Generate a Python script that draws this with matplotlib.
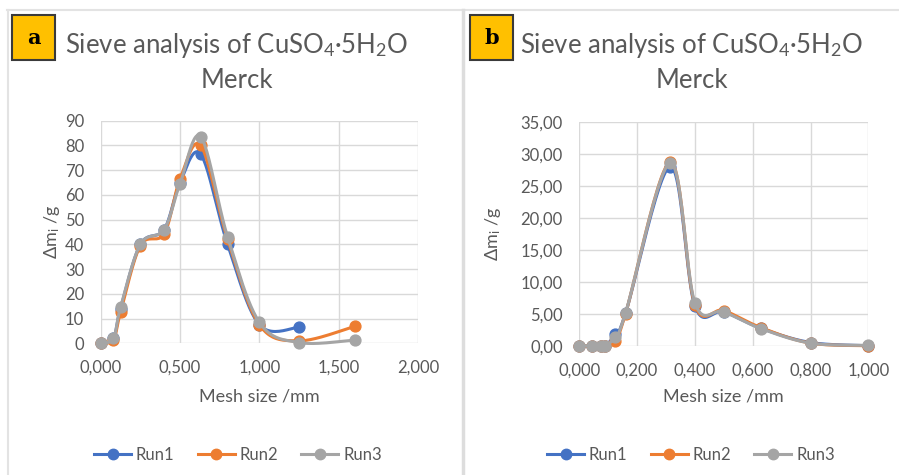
import matplotlib
matplotlib.use("Agg")
import matplotlib.pyplot as plt
from matplotlib.patches import Rectangle
from matplotlib.lines import Line2D
import numpy as np

plt.rcParams['font.family'] = ['Lato', 'DejaVu Sans']
plt.rcParams['mathtext.fontset'] = 'custom'
plt.rcParams['mathtext.rm'] = 'Lato'
plt.rcParams['mathtext.it'] = 'Lato:italic'

# ---- data, chart a ----
mesh_a = [0.0, 0.08, 0.125, 0.25, 0.4, 0.5, 0.63, 0.8, 1.0, 1.25, 1.6]
run1_a = [0.0, 2.0, 14.0, 40.0, 46.0, 65.0, 76.5, 40.0, 7.5, 6.5]
run2_a = [0.0, 1.5, 12.5, 39.5, 44.3, 66.4, 80.0, 42.0, 7.5, 1.0, 6.8]
run3_a = [0.0, 2.0, 14.5, 40.0, 46.0, 64.5, 83.6, 43.0, 8.5, 0.3, 1.3]

# ---- data, chart b ----
mesh_b = [0.0, 0.045, 0.075, 0.09, 0.125, 0.16, 0.315, 0.4, 0.5, 0.63, 0.8, 1.0]
run1_b = [0.0, 0.0, 0.0, 0.0, 1.8, 5.05, 28.0, 6.2, 5.3, 2.7, 0.5, 0.0]
run2_b = [0.0, 0.0, 0.0, 0.0, 0.8, 5.0, 28.7, 6.4, 5.5, 2.8, 0.4, 0.0]
run3_b = [0.0, 0.0, 0.0, 0.0, 1.4, 5.1, 28.6, 6.7, 5.3, 2.65, 0.4, 0.05]

run_names = ['Run1', 'Run2', 'Run3']
colors = ['#4472C4', '#ED7D31', '#A5A5A5']
txt = '#595959'
grid = '#D9D9D9'

W, H = 899, 475


def fx(px):
    return px / W


def fy(py):
    return 1 - py / H


def smooth(x, y, sx, sy, n=25):
    # excel-like smoothed line (bezier through the points)
    pts = np.column_stack([np.array(x) / sx, np.array(y) / sy])
    out = [pts[0]]
    for i in range(len(pts) - 1):
        p0 = pts[i - 1] if i > 0 else pts[i]
        p1 = pts[i]
        p2 = pts[i + 1]
        p3 = pts[i + 2] if i + 2 < len(pts) else pts[i + 1]
        c1 = p1 + (p2 - p0) / 6
        c2 = p2 - (p3 - p1) / 6
        t = np.linspace(0, 1, n)[1:, None]
        seg = (1 - t) ** 3 * p1 + 3 * (1 - t) ** 2 * t * c1 + 3 * (1 - t) * t ** 2 * c2 + t ** 3 * p2
        out.extend(seg)
    out = np.array(out)
    return out[:, 0] * sx, out[:, 1] * sy


fig = plt.figure(figsize=(W / 100, H / 100), dpi=100)

# frame lines of the picture
fig.add_artist(Line2D([fx(7), fx(899)], [fy(10), fy(10)], color='#E3E3E3', lw=1.5))
fig.add_artist(Line2D([fx(8), fx(8)], [fy(10), fy(475)], color='#E3E3E3', lw=1.5))
fig.add_artist(Line2D([fx(463), fx(463)], [fy(10), fy(475)], color='#DDDDDD', lw=2.5))


def panel(rect, xs, runs, xlim, xstep, ylim, ystep, yfmt, letter, box_x, cx, leg_x):
    ax = fig.add_axes(rect)
    ax.set_xlim(*xlim)
    ax.set_ylim(*ylim)
    ax.set_xticks(np.arange(xlim[0], xlim[1] + xstep / 2, xstep))
    ax.set_yticks(np.arange(ylim[0], ylim[1] + ystep / 2, ystep))
    ax.set_xticklabels([('%.3f' % v).replace('.', ',') for v in ax.get_xticks()])
    ax.set_yticklabels([(yfmt % v).replace('.', ',') for v in ax.get_yticks()])
    ax.grid(True, color=grid, lw=1)
    ax.set_axisbelow(True)
    for s in ax.spines.values():
        s.set_visible(False)
    ax.tick_params(length=0, labelsize=12, labelcolor=txt, pad=12)

    bb = ax.get_position()
    sx = (xlim[1] - xlim[0]) / (bb.width * W)
    sy = (ylim[1] - ylim[0]) / (bb.height * H)
    for r, c in zip(runs, colors):
        x = xs[:len(r)]
        lx, ly = smooth(x, r, sx, sy)
        ax.plot(lx, ly, color=c, lw=2.2, clip_on=False, solid_capstyle='round')
        ax.plot(x, r, 'o', color=c, ms=7.8, clip_on=False)

    # label box
    fig.add_artist(Rectangle((fx(box_x), fy(60)), fx(43), 45 / H, facecolor='#FFC000',
                             edgecolor='#3A3A3A', lw=1.5))
    fig.text(fx(box_x + 21.5), fy(38), letter, ha='center', va='center', fontsize=15,
             fontweight='bold', family='DejaVu Serif', color='black')
    fig.text(fx(cx), fy(45), 'Sieve analysis of CuSO$_4$·5H$_2$O', ha='center', va='center',
             fontsize=18.5, color=txt)
    fig.text(fx(cx), fy(80), 'Merck', ha='center', va='center', fontsize=18.5, color=txt)

    ax.set_ylabel('Δm$_{\\mathrm{i}}$ /g', fontsize=13, color=txt)
    fig.text(fx((bb.x0 + bb.x1) / 2 * W), fy(397), 'Mesh size /mm', ha='center', va='center',
             fontsize=13, color=txt)

    handles = [Line2D([], [], color=c, lw=2.2, marker='o', ms=7.5) for c in colors]
    leg = fig.legend(handles, run_names, loc='center', bbox_to_anchor=(fx(leg_x), fy(455)),
                     ncol=3, frameon=False, fontsize=12, handlelength=2.2, columnspacing=1.4,
                     handletextpad=0.3)
    for t in leg.get_texts():
        t.set_color(txt)
    return ax


ax1 = panel([fx(100.7), fy(343.3), (418 - 100.7) / W, (343.3 - 120.7) / H], mesh_a,
            [run1_a, run2_a, run3_a], (0, 2), 0.5, (0, 90), 10, '%d', 'a', 12, 237, 238)
ax1.yaxis.set_label_coords(-0.122, 0.5)

ax2 = panel([fx(579.3), fy(345.7), (868.3 - 579.3) / W, (345.7 - 121.7) / H], mesh_b,
            [run1_b, run2_b, run3_b], (0, 1), 0.2, (0, 35), 5, '%.2f', 'b', 470, 692, 691)
ax2.yaxis.set_label_coords(-0.264, 0.5)

fig.savefig('out.png', dpi=100)
